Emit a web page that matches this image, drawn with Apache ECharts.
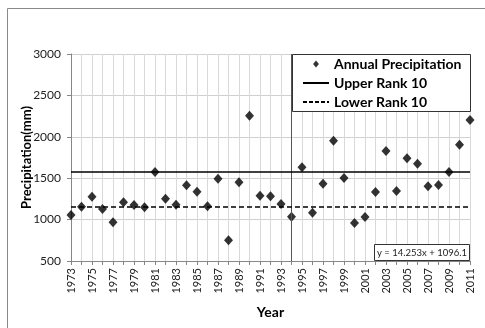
<!DOCTYPE html>
<html><head><meta charset="utf-8">
<script src="https://cdn.jsdelivr.net/npm/echarts@6/dist/echarts.min.js"></script>
<style>html,body{margin:0;padding:0;background:#fff}#c{width:485px;height:328px}</style>
</head><body><div id="c"></div>
<script>
const YEARS = ['1973','1974','1975','1976','1977','1978','1979','1980','1981','1982','1983','1984','1985','1986','1987','1988','1989','1990','1991','1992','1993','1994','1995','1996','1997','1998','1999','2000','2001','2002','2003','2004','2005','2006','2007','2008','2009','2010','2011'];
const PRECIP = [1055,1156,1277,1128,967,1209,1176,1148,1575,1253,1180,1414,1337,1161,1494,750,1450,2255,1289,1281,1188,1035,1632,1084,1434,1953,1503,959,1031,1333,1829,1345,1740,1675,1402,1418,1575,1905,2203];
const UPPER_RANK = 1575;
const LOWER_RANK = 1156;
const SPLIT_YEAR = '1994';
const Y_TICKS = [500, 3000, 500]; // min, max, interval
const TREND_TEXT = 'y = 14.253x + 1096.1';

const FONT = 'Lato, "Open Sans", sans-serif';
const chart = echarts.init(document.getElementById('c'), null, {renderer: 'canvas'});
chart.setOption({
  animation: false,
  backgroundColor: '#fff',
  grid: {left: 71, right: 15, top: 54, bottom: 67, containLabel: false},
  xAxis: {
    type: 'category', data: YEARS, boundaryGap: false,
    name: 'Year', nameLocation: 'middle', nameGap: 44, nameMoveOverlap: false,
    nameTextStyle: {fontFamily: FONT, fontSize: 14, fontWeight: 'bold', color: '#000'},
    axisLine: {lineStyle: {color: '#868686'}},
    axisTick: {show: true, interval: 0, length: 4, lineStyle: {color: '#868686'}},
    axisLabel: {interval: 1, rotate: 90, margin: 7, fontFamily: FONT, fontSize: 11, color: '#222'},
    splitLine: {show: true, interval: 0, lineStyle: {color: '#d9d9d9'}}
  },
  yAxis: {
    type: 'value', min: Y_TICKS[0], max: Y_TICKS[1], interval: Y_TICKS[2],
    name: 'Precipitation(mm)', nameLocation: 'middle', nameGap: 38, nameMoveOverlap: false,
    nameTextStyle: {fontFamily: FONT, fontSize: 13, fontWeight: 'bold', color: '#000'},
    axisLine: {show: true, lineStyle: {color: '#868686'}},
    axisTick: {show: true, length: 4, lineStyle: {color: '#868686'}},
    axisLabel: {margin: 10, fontFamily: FONT, fontSize: 12, color: '#222', formatter: v => String(v)},
    splitLine: {show: true, lineStyle: {color: '#d0d0d0'}}
  },
  legend: {
    left: 292, top: 54, orient: 'vertical',
    padding: [2, 5, 2, 10], itemGap: 3, itemWidth: 26, itemHeight: 7,
    z: 10,
    textStyle: {fontFamily: FONT, fontSize: 14, fontWeight: 'bold', color: '#000', lineHeight: 16},
    data: [
      {name: 'Annual Precipitation', icon: 'path://M5,0L10,6L5,12L0,6Z'},
      {name: 'Upper Rank 10', itemStyle: {opacity: 0}},
      {name: 'Lower Rank 10', itemStyle: {opacity: 0}}
    ]
  },
  graphic: [
    {type: 'rect', z: -10, silent: true, shape: {x: 7.5, y: 8.5, width: 600, height: 600},
     style: {fill: 'none', stroke: '#8a8a8a', lineWidth: 1}},
    {type: 'rect', z: 5, silent: true, shape: {x: 292.5, y: 54.5, width: 178, height: 57},
     style: {fill: '#fff', stroke: '#333', lineWidth: 1}},
    {type: 'rect', z: 5, silent: true, shape: {x: 374.5, y: 244.5, width: 95, height: 16},
     style: {fill: '#fff', stroke: '#333', lineWidth: 1}},
    {type: 'text', z: 6, silent: true, x: 422, y: 253,
     style: {text: TREND_TEXT, fontFamily: FONT, fontSize: 9.5, fill: '#222', align: 'center', verticalAlign: 'middle'}}
  ],
  series: [
    {
      name: 'Annual Precipitation', type: 'scatter', data: PRECIP,
      symbol: 'diamond', symbolSize: [9, 10], symbolKeepAspect: true,
      itemStyle: {color: '#000'}, z: 4,
      markLine: {
        silent: true, symbol: 'none', label: {show: false},
        lineStyle: {color: '#555', width: 1, type: 'solid'},
        data: [{xAxis: SPLIT_YEAR}]
      }
    },
    {
      name: 'Upper Rank 10', type: 'line', data: [], symbol: 'none',
      itemStyle: {color: '#000', opacity: 0}, lineStyle: {color: '#000', width: 1.5, type: 'solid'},
      markLine: {silent: true, symbol: 'none', label: {show: false},
        lineStyle: {color: '#000', width: 1.5, type: 'solid', opacity: 1}, data: [{yAxis: UPPER_RANK}]}
    },
    {
      name: 'Lower Rank 10', type: 'line', data: [], symbol: 'none',
      itemStyle: {color: '#000', opacity: 0}, lineStyle: {color: '#000', width: 1.5, type: [4, 2]},
      markLine: {silent: true, symbol: 'none', label: {show: false},
        lineStyle: {color: '#000', width: 1.5, type: [5, 3], opacity: 1}, data: [{yAxis: LOWER_RANK}]}
    }
  ]
});
</script></body></html>
